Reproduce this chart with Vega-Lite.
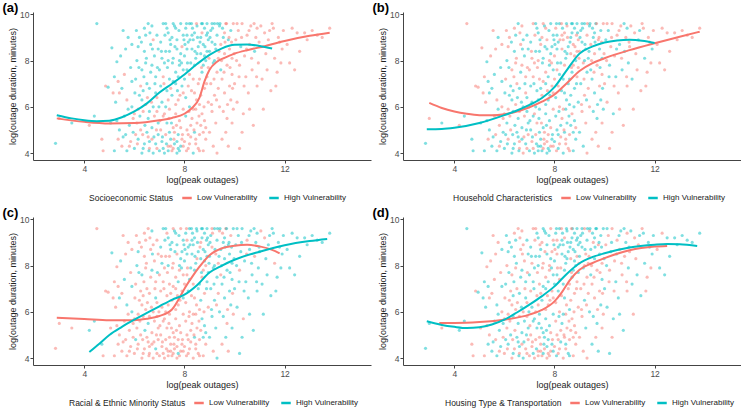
{
"$schema": "https://vega.github.io/schema/vega-lite/v6.json",
"padding": {"left": 2, "top": 2, "right": 0, "bottom": 0},
"background": "white",
"spacing": 4,
"config": {
 "font": "Liberation Sans",
 "view": {"stroke": null},
 "axis": {"grid": false, "domainColor": "#444", "tickColor": "#444", "tickSize": 3, "labelColor": "#4d4d4d", "labelFontSize": 8.5, "labelPadding": 1, "titleFontSize": 9, "titleFontWeight": "normal", "titleColor": "#222"},
 "axisX": {"titlePadding": 2.5},
 "axisY": {"titlePadding": 2.5},
 "legend": {"titleFontSize": 8.5, "titleFontWeight": "normal", "titleColor": "#222", "labelFontSize": 8, "labelColor": "#222", "symbolType": "stroke", "symbolStrokeWidth": 2.5, "symbolSize": 90, "symbolOpacity": 1, "direction": "horizontal", "titleOrient": "left", "orient": "none", "columnPadding": 6, "titlePadding": 7, "labelOffset": 4, "gridAlign": "none"},
 "title": {"fontSize": 13, "fontWeight": "bold", "anchor": "start", "frame": "bounds", "offset": -5, "dx": -5.5, "color": "#000"},
 "concat": {"spacing": 0}
},
"datasets": {
"pts": [
{"x":2.85,"y":4.42,"a":"H","b":"H","c":"L","d":"H"},
{"x":3.0,"y":5.5,"a":"L","b":"L","c":"L","d":"H"},
{"x":3.5,"y":5.3,"a":"H","b":"H","c":"L","d":"L"},
{"x":4.5,"y":9.6,"a":"H","b":"L","c":"L","d":"H"},
{"x":4.85,"y":6.9,"a":"L","b":"L","c":"L","d":"L"},
{"x":4.7,"y":4.6,"a":"L","b":"H","c":"H","d":"L"},
{"x":4.95,"y":6.85,"a":"H","b":"L","c":"L","d":"H"},
{"x":4.4,"y":5.6,"a":"H","b":"H","c":"H","d":"H"},
{"x":4.75,"y":4.1,"a":"L","b":"H","c":"L","d":"L"},
{"x":4.2,"y":5.2,"a":"L","b":"L","c":"H","d":"H"},
{"x":5.1,"y":8.55,"a":"H","b":"L","c":"H","d":"H"},
{"x":5.2,"y":4.1,"a":"H","b":"H","c":"L","d":"L"},
{"x":5.25,"y":6.2,"a":"H","b":"L","c":"L","d":"H"},
{"x":5.3,"y":7.95,"a":"H","b":"H","c":"L","d":"L"},
{"x":5.35,"y":4.6,"a":"L","b":"L","c":"L","d":"H"},
{"x":5.4,"y":5.0,"a":"H","b":"H","c":"L","d":"L"},
{"x":5.45,"y":8.2,"a":"H","b":"L","c":"H","d":"L"},
{"x":5.5,"y":4.3,"a":"L","b":"H","c":"L","d":"H"},
{"x":5.5,"y":6.8,"a":"H","b":"H","c":"L","d":"L"},
{"x":5.6,"y":5.6,"a":"H","b":"L","c":"L","d":"H"},
{"x":5.6,"y":7.4,"a":"L","b":"H","c":"H","d":"L"},
{"x":5.65,"y":4.8,"a":"H","b":"L","c":"L","d":"L"},
{"x":5.7,"y":4.1,"a":"H","b":"H","c":"L","d":"H"},
{"x":5.7,"y":6.3,"a":"L","b":"L","c":"H","d":"H"},
{"x":5.75,"y":9.0,"a":"H","b":"H","c":"L","d":"L"},
{"x":5.8,"y":5.2,"a":"H","b":"L","c":"L","d":"H"},
{"x":5.85,"y":7.7,"a":"H","b":"H","c":"L","d":"L"},
{"x":5.85,"y":4.5,"a":"L","b":"H","c":"L","d":"H"},
{"x":5.9,"y":6.0,"a":"H","b":"L","c":"H","d":"L"},
{"x":5.9,"y":8.7,"a":"H","b":"L","c":"L","d":"H"},
{"x":5.95,"y":4.9,"a":"H","b":"H","c":"L","d":"L"},
{"x":5.95,"y":5.5,"a":"L","b":"L","c":"L","d":"H"},
{"x":5.3,"y":5.4,"a":"H","b":"H","c":"L","d":"L"},
{"x":5.15,"y":6.6,"a":"L","b":"L","c":"L","d":"H"},
{"x":5.05,"y":5.3,"a":"H","b":"H","c":"L","d":"L"},
{"x":5.2,"y":7.3,"a":"H","b":"L","c":"L","d":"H"},
{"x":5.4,"y":6.6,"a":"L","b":"H","c":"H","d":"L"},
{"x":5.55,"y":4.7,"a":"H","b":"H","c":"L","d":"H"},
{"x":5.65,"y":8.5,"a":"H","b":"L","c":"L","d":"L"},
{"x":5.75,"y":5.9,"a":"H","b":"H","c":"L","d":"H"},
{"x":5.8,"y":4.3,"a":"L","b":"L","c":"L","d":"L"},
{"x":5.9,"y":7.1,"a":"H","b":"H","c":"H","d":"H"},
{"x":5.55,"y":9.3,"a":"H","b":"L","c":"L","d":"L"},
{"x":5.35,"y":7.1,"a":"L","b":"H","c":"L","d":"H"},
{"x":6.0,"y":4.2,"a":"H","b":"H","c":"L","d":"L"},
{"x":6.05,"y":7.2,"a":"H","b":"L","c":"L","d":"H"},
{"x":6.1,"y":5.3,"a":"L","b":"H","c":"L","d":"L"},
{"x":6.1,"y":8.0,"a":"H","b":"H","c":"H","d":"L"},
{"x":6.15,"y":4.6,"a":"H","b":"L","c":"L","d":"H"},
{"x":6.2,"y":6.5,"a":"H","b":"H","c":"L","d":"L"},
{"x":6.2,"y":9.0,"a":"H","b":"L","c":"L","d":"H"},
{"x":6.25,"y":5.0,"a":"L","b":"L","c":"L","d":"H"},
{"x":6.3,"y":4.0,"a":"H","b":"H","c":"L","d":"L"},
{"x":6.3,"y":7.6,"a":"H","b":"L","c":"H","d":"L"},
{"x":6.35,"y":5.8,"a":"L","b":"H","c":"L","d":"H"},
{"x":6.4,"y":4.4,"a":"H","b":"H","c":"L","d":"L"},
{"x":6.4,"y":8.4,"a":"H","b":"H","c":"L","d":"H"},
{"x":6.45,"y":6.1,"a":"L","b":"L","c":"L","d":"L"},
{"x":6.5,"y":4.9,"a":"H","b":"H","c":"L","d":"H"},
{"x":6.5,"y":7.0,"a":"H","b":"L","c":"L","d":"L"},
{"x":6.55,"y":5.5,"a":"H","b":"H","c":"H","d":"H"},
{"x":6.55,"y":9.6,"a":"H","b":"H","c":"L","d":"L"},
{"x":6.6,"y":4.2,"a":"L","b":"L","c":"L","d":"L"},
{"x":6.6,"y":6.8,"a":"H","b":"H","c":"L","d":"H"},
{"x":6.65,"y":8.7,"a":"H","b":"L","c":"L","d":"L"},
{"x":6.7,"y":5.1,"a":"H","b":"H","c":"L","d":"H"},
{"x":6.7,"y":4.6,"a":"L","b":"H","c":"L","d":"L"},
{"x":6.7,"y":7.8,"a":"H","b":"L","c":"H","d":"H"},
{"x":6.75,"y":6.0,"a":"H","b":"H","c":"L","d":"L"},
{"x":6.75,"y":4.0,"a":"H","b":"L","c":"L","d":"H"},
{"x":6.8,"y":8.2,"a":"H","b":"H","c":"L","d":"L"},
{"x":6.8,"y":5.6,"a":"L","b":"L","c":"L","d":"H"},
{"x":6.85,"y":4.4,"a":"H","b":"H","c":"H","d":"L"},
{"x":6.85,"y":7.3,"a":"H","b":"L","c":"L","d":"H"},
{"x":6.9,"y":6.4,"a":"L","b":"H","c":"L","d":"L"},
{"x":6.9,"y":9.1,"a":"H","b":"H","c":"L","d":"H"},
{"x":6.95,"y":4.8,"a":"H","b":"L","c":"L","d":"L"},
{"x":6.95,"y":5.3,"a":"H","b":"H","c":"L","d":"H"},
{"x":6.0,"y":5.7,"a":"L","b":"L","c":"L","d":"L"},
{"x":6.15,"y":8.6,"a":"H","b":"L","c":"H","d":"H"},
{"x":6.25,"y":6.9,"a":"L","b":"H","c":"L","d":"L"},
{"x":6.35,"y":4.2,"a":"H","b":"H","c":"L","d":"H"},
{"x":6.45,"y":7.9,"a":"H","b":"L","c":"L","d":"L"},
{"x":6.55,"y":4.7,"a":"L","b":"H","c":"L","d":"H"},
{"x":6.6,"y":5.8,"a":"H","b":"L","c":"L","d":"L"},
{"x":6.65,"y":7.5,"a":"H","b":"H","c":"L","d":"H"},
{"x":6.75,"y":8.9,"a":"L","b":"H","c":"L","d":"L"},
{"x":6.85,"y":6.6,"a":"H","b":"L","c":"H","d":"H"},
{"x":6.9,"y":4.2,"a":"L","b":"L","c":"L","d":"L"},
{"x":6.95,"y":8.5,"a":"H","b":"H","c":"L","d":"H"},
{"x":6.4,"y":9.4,"a":"H","b":"L","c":"L","d":"L"},
{"x":6.05,"y":4.8,"a":"L","b":"H","c":"H","d":"H"},
{"x":6.3,"y":6.3,"a":"H","b":"H","c":"L","d":"L"},
{"x":6.6,"y":4.5,"a":"H","b":"L","c":"L","d":"H"},
{"x":6.02,"y":6.6,"a":"H","b":"H","c":"L","d":"L"},
{"x":6.08,"y":9.3,"a":"H","b":"L","c":"L","d":"H"},
{"x":6.12,"y":4.4,"a":"L","b":"H","c":"L","d":"L"},
{"x":6.18,"y":7.7,"a":"H","b":"H","c":"H","d":"H"},
{"x":6.22,"y":5.6,"a":"H","b":"L","c":"L","d":"L"},
{"x":6.28,"y":8.8,"a":"H","b":"H","c":"L","d":"H"},
{"x":6.33,"y":4.8,"a":"L","b":"H","c":"L","d":"L"},
{"x":6.38,"y":7.3,"a":"H","b":"L","c":"L","d":"H"},
{"x":6.42,"y":5.2,"a":"H","b":"H","c":"H","d":"L"},
{"x":6.48,"y":8.1,"a":"H","b":"L","c":"L","d":"H"},
{"x":6.52,"y":6.4,"a":"L","b":"H","c":"L","d":"L"},
{"x":6.58,"y":4.1,"a":"H","b":"H","c":"L","d":"H"},
{"x":6.62,"y":9.2,"a":"H","b":"L","c":"L","d":"L"},
{"x":6.68,"y":6.2,"a":"L","b":"H","c":"L","d":"H"},
{"x":6.72,"y":8.5,"a":"H","b":"H","c":"H","d":"L"},
{"x":6.78,"y":4.7,"a":"H","b":"L","c":"L","d":"H"},
{"x":6.82,"y":7.0,"a":"H","b":"H","c":"L","d":"L"},
{"x":6.88,"y":5.0,"a":"L","b":"H","c":"L","d":"H"},
{"x":6.92,"y":7.7,"a":"H","b":"L","c":"H","d":"L"},
{"x":6.98,"y":6.0,"a":"H","b":"H","c":"L","d":"H"},
{"x":6.15,"y":5.9,"a":"L","b":"L","c":"L","d":"L"},
{"x":6.45,"y":9.1,"a":"H","b":"H","c":"L","d":"H"},
{"x":6.7,"y":9.5,"a":"H","b":"L","c":"H","d":"L"},
{"x":6.35,"y":6.7,"a":"H","b":"H","c":"L","d":"H"},
{"x":6.9,"y":5.8,"a":"L","b":"H","c":"L","d":"L"},
{"x":7.0,"y":4.1,"a":"H","b":"H","c":"L","d":"L"},
{"x":7.0,"y":7.6,"a":"H","b":"L","c":"L","d":"H"},
{"x":7.05,"y":5.0,"a":"L","b":"H","c":"L","d":"L"},
{"x":7.05,"y":8.8,"a":"H","b":"H","c":"H","d":"H"},
{"x":7.1,"y":4.5,"a":"H","b":"L","c":"L","d":"L"},
{"x":7.1,"y":6.2,"a":"H","b":"H","c":"L","d":"H"},
{"x":7.15,"y":9.6,"a":"H","b":"L","c":"H","d":"L"},
{"x":7.15,"y":5.6,"a":"L","b":"H","c":"L","d":"H"},
{"x":7.2,"y":4.0,"a":"H","b":"H","c":"L","d":"L"},
{"x":7.2,"y":7.9,"a":"H","b":"L","c":"L","d":"H"},
{"x":7.25,"y":4.8,"a":"L","b":"L","c":"L","d":"L"},
{"x":7.25,"y":8.4,"a":"H","b":"H","c":"L","d":"H"},
{"x":7.3,"y":6.7,"a":"H","b":"H","c":"L","d":"L"},
{"x":7.3,"y":5.3,"a":"H","b":"L","c":"L","d":"H"},
{"x":7.35,"y":4.3,"a":"L","b":"H","c":"L","d":"L"},
{"x":7.35,"y":9.2,"a":"H","b":"H","c":"H","d":"H"},
{"x":7.4,"y":7.2,"a":"H","b":"L","c":"L","d":"L"},
{"x":7.4,"y":5.9,"a":"L","b":"H","c":"L","d":"H"},
{"x":7.45,"y":4.6,"a":"H","b":"H","c":"L","d":"L"},
{"x":7.45,"y":8.7,"a":"H","b":"L","c":"H","d":"H"},
{"x":7.5,"y":4.1,"a":"L","b":"H","c":"L","d":"L"},
{"x":7.5,"y":6.5,"a":"H","b":"L","c":"L","d":"H"},
{"x":7.55,"y":8.1,"a":"H","b":"H","c":"L","d":"L"},
{"x":7.55,"y":5.1,"a":"L","b":"H","c":"L","d":"H"},
{"x":7.6,"y":4.4,"a":"H","b":"L","c":"L","d":"L"},
{"x":7.6,"y":9.5,"a":"H","b":"H","c":"H","d":"H"},
{"x":7.65,"y":7.5,"a":"H","b":"L","c":"L","d":"L"},
{"x":7.65,"y":5.7,"a":"L","b":"H","c":"L","d":"H"},
{"x":7.7,"y":4.0,"a":"H","b":"H","c":"L","d":"L"},
{"x":7.7,"y":8.9,"a":"H","b":"L","c":"H","d":"H"},
{"x":7.75,"y":6.3,"a":"L","b":"H","c":"L","d":"L"},
{"x":7.75,"y":4.8,"a":"H","b":"L","c":"L","d":"H"},
{"x":7.8,"y":7.8,"a":"H","b":"H","c":"L","d":"L"},
{"x":7.8,"y":5.4,"a":"L","b":"H","c":"L","d":"H"},
{"x":7.85,"y":4.3,"a":"H","b":"L","c":"L","d":"L"},
{"x":7.85,"y":8.3,"a":"H","b":"H","c":"H","d":"H"},
{"x":7.9,"y":6.9,"a":"H","b":"L","c":"L","d":"L"},
{"x":7.9,"y":4.6,"a":"L","b":"H","c":"L","d":"H"},
{"x":7.95,"y":9.1,"a":"H","b":"H","c":"H","d":"L"},
{"x":7.95,"y":5.9,"a":"L","b":"L","c":"L","d":"H"},
{"x":7.05,"y":6.9,"a":"H","b":"H","c":"L","d":"L"},
{"x":7.15,"y":7.3,"a":"L","b":"L","c":"L","d":"H"},
{"x":7.25,"y":6.0,"a":"H","b":"H","c":"L","d":"L"},
{"x":7.35,"y":8.0,"a":"H","b":"L","c":"H","d":"H"},
{"x":7.45,"y":6.8,"a":"L","b":"H","c":"L","d":"L"},
{"x":7.55,"y":7.1,"a":"H","b":"L","c":"L","d":"H"},
{"x":7.65,"y":6.1,"a":"L","b":"H","c":"L","d":"L"},
{"x":7.75,"y":7.3,"a":"H","b":"H","c":"H","d":"H"},
{"x":7.85,"y":5.1,"a":"L","b":"L","c":"L","d":"L"},
{"x":7.95,"y":7.6,"a":"H","b":"H","c":"L","d":"H"},
{"x":7.1,"y":8.1,"a":"H","b":"L","c":"H","d":"L"},
{"x":7.3,"y":9.4,"a":"H","b":"H","c":"L","d":"H"},
{"x":7.5,"y":9.0,"a":"H","b":"L","c":"H","d":"L"},
{"x":7.7,"y":8.5,"a":"H","b":"H","c":"L","d":"H"},
{"x":7.9,"y":8.6,"a":"L","b":"H","c":"H","d":"L"},
{"x":7.2,"y":5.7,"a":"L","b":"L","c":"L","d":"H"},
{"x":7.4,"y":4.9,"a":"H","b":"H","c":"L","d":"L"},
{"x":7.6,"y":4.9,"a":"L","b":"L","c":"L","d":"H"},
{"x":7.8,"y":4.1,"a":"H","b":"H","c":"L","d":"L"},
{"x":7.95,"y":4.3,"a":"L","b":"L","c":"L","d":"H"},
{"x":7.35,"y":4.1,"a":"H","b":"H","c":"L","d":"L"},
{"x":7.55,"y":4.2,"a":"L","b":"L","c":"L","d":"H"},
{"x":7.75,"y":4.2,"a":"H","b":"H","c":"H","d":"L"},
{"x":7.65,"y":9.4,"a":"H","b":"L","c":"H","d":"H"},
{"x":7.85,"y":9.6,"a":"H","b":"H","c":"L","d":"L"},
{"x":7.02,"y":5.4,"a":"L","b":"H","c":"L","d":"L"},
{"x":7.08,"y":8.4,"a":"H","b":"L","c":"L","d":"H"},
{"x":7.12,"y":4.7,"a":"H","b":"H","c":"L","d":"L"},
{"x":7.18,"y":7.0,"a":"L","b":"H","c":"L","d":"H"},
{"x":7.22,"y":9.1,"a":"H","b":"L","c":"H","d":"L"},
{"x":7.28,"y":4.4,"a":"H","b":"H","c":"L","d":"H"},
{"x":7.32,"y":7.7,"a":"H","b":"L","c":"L","d":"L"},
{"x":7.38,"y":5.5,"a":"L","b":"H","c":"L","d":"H"},
{"x":7.42,"y":8.9,"a":"H","b":"H","c":"H","d":"L"},
{"x":7.48,"y":5.3,"a":"H","b":"L","c":"L","d":"H"},
{"x":7.52,"y":7.9,"a":"H","b":"H","c":"L","d":"L"},
{"x":7.58,"y":4.6,"a":"L","b":"L","c":"L","d":"H"},
{"x":7.62,"y":8.6,"a":"H","b":"H","c":"H","d":"L"},
{"x":7.68,"y":5.2,"a":"L","b":"H","c":"L","d":"H"},
{"x":7.72,"y":6.7,"a":"H","b":"L","c":"L","d":"L"},
{"x":7.78,"y":9.3,"a":"H","b":"H","c":"H","d":"H"},
{"x":7.82,"y":6.5,"a":"L","b":"H","c":"L","d":"L"},
{"x":7.88,"y":7.9,"a":"H","b":"L","c":"H","d":"H"},
{"x":7.92,"y":4.8,"a":"L","b":"H","c":"L","d":"L"},
{"x":7.98,"y":8.9,"a":"H","b":"H","c":"H","d":"H"},
{"x":7.15,"y":4.2,"a":"H","b":"L","c":"L","d":"H"},
{"x":7.45,"y":4.3,"a":"L","b":"H","c":"L","d":"L"},
{"x":7.7,"y":4.5,"a":"H","b":"L","c":"L","d":"H"},
{"x":7.25,"y":9.6,"a":"H","b":"H","c":"H","d":"L"},
{"x":7.55,"y":9.6,"a":"H","b":"L","c":"L","d":"H"},
{"x":7.35,"y":6.3,"a":"L","b":"H","c":"L","d":"L"},
{"x":7.65,"y":7.0,"a":"H","b":"H","c":"L","d":"H"},
{"x":7.95,"y":6.6,"a":"L","b":"L","c":"H","d":"L"},
{"x":7.4,"y":8.4,"a":"H","b":"H","c":"L","d":"H"},
{"x":7.8,"y":8.0,"a":"H","b":"L","c":"H","d":"L"},
{"x":8.0,"y":4.5,"a":"L","b":"H","c":"L","d":"L"},
{"x":8.0,"y":8.2,"a":"H","b":"L","c":"H","d":"H"},
{"x":8.05,"y":6.4,"a":"H","b":"H","c":"L","d":"L"},
{"x":8.05,"y":9.4,"a":"H","b":"L","c":"H","d":"H"},
{"x":8.1,"y":5.0,"a":"L","b":"H","c":"L","d":"L"},
{"x":8.1,"y":7.6,"a":"H","b":"L","c":"L","d":"H"},
{"x":8.15,"y":4.2,"a":"L","b":"H","c":"L","d":"L"},
{"x":8.15,"y":8.8,"a":"H","b":"H","c":"H","d":"H"},
{"x":8.2,"y":6.0,"a":"H","b":"L","c":"L","d":"L"},
{"x":8.2,"y":9.6,"a":"H","b":"H","c":"H","d":"H"},
{"x":8.25,"y":4.7,"a":"L","b":"L","c":"L","d":"H"},
{"x":8.25,"y":7.9,"a":"H","b":"H","c":"H","d":"L"},
{"x":8.3,"y":5.5,"a":"L","b":"L","c":"L","d":"H"},
{"x":8.3,"y":8.5,"a":"H","b":"L","c":"H","d":"H"},
{"x":8.35,"y":4.0,"a":"H","b":"H","c":"L","d":"L"},
{"x":8.35,"y":7.2,"a":"L","b":"H","c":"L","d":"H"},
{"x":8.4,"y":9.2,"a":"H","b":"L","c":"H","d":"L"},
{"x":8.4,"y":6.6,"a":"L","b":"H","c":"L","d":"H"},
{"x":8.45,"y":4.4,"a":"L","b":"L","c":"L","d":"L"},
{"x":8.45,"y":8.1,"a":"H","b":"H","c":"H","d":"H"},
{"x":8.5,"y":5.3,"a":"L","b":"H","c":"L","d":"L"},
{"x":8.5,"y":9.5,"a":"H","b":"L","c":"H","d":"H"},
{"x":8.55,"y":7.0,"a":"L","b":"H","c":"H","d":"L"},
{"x":8.55,"y":8.6,"a":"H","b":"H","c":"H","d":"H"},
{"x":8.6,"y":4.8,"a":"L","b":"L","c":"L","d":"L"},
{"x":8.6,"y":6.1,"a":"L","b":"H","c":"L","d":"H"},
{"x":8.65,"y":8.3,"a":"H","b":"L","c":"H","d":"L"},
{"x":8.65,"y":9.0,"a":"H","b":"H","c":"L","d":"H"},
{"x":8.7,"y":5.7,"a":"L","b":"L","c":"H","d":"L"},
{"x":8.7,"y":7.5,"a":"H","b":"H","c":"L","d":"H"},
{"x":8.75,"y":4.1,"a":"L","b":"H","c":"L","d":"L"},
{"x":8.75,"y":8.7,"a":"H","b":"L","c":"H","d":"H"},
{"x":8.8,"y":6.8,"a":"L","b":"H","c":"L","d":"L"},
{"x":8.8,"y":9.4,"a":"H","b":"H","c":"H","d":"H"},
{"x":8.85,"y":5.1,"a":"L","b":"L","c":"H","d":"L"},
{"x":8.85,"y":8.0,"a":"H","b":"H","c":"L","d":"H"},
{"x":8.9,"y":7.3,"a":"L","b":"L","c":"H","d":"L"},
{"x":8.9,"y":9.6,"a":"H","b":"H","c":"H","d":"H"},
{"x":8.95,"y":6.2,"a":"L","b":"H","c":"L","d":"L"},
{"x":8.95,"y":8.9,"a":"H","b":"L","c":"H","d":"H"},
{"x":8.05,"y":5.6,"a":"H","b":"H","c":"L","d":"L"},
{"x":8.15,"y":6.9,"a":"L","b":"L","c":"H","d":"H"},
{"x":8.25,"y":5.2,"a":"L","b":"H","c":"L","d":"L"},
{"x":8.35,"y":8.9,"a":"H","b":"L","c":"H","d":"H"},
{"x":8.45,"y":5.9,"a":"L","b":"H","c":"L","d":"L"},
{"x":8.55,"y":4.2,"a":"L","b":"L","c":"L","d":"H"},
{"x":8.65,"y":6.5,"a":"L","b":"H","c":"H","d":"L"},
{"x":8.75,"y":7.8,"a":"H","b":"L","c":"L","d":"H"},
{"x":8.85,"y":4.6,"a":"L","b":"H","c":"L","d":"L"},
{"x":8.95,"y":7.7,"a":"L","b":"L","c":"H","d":"H"},
{"x":8.1,"y":8.5,"a":"H","b":"H","c":"H","d":"L"},
{"x":8.3,"y":9.1,"a":"H","b":"L","c":"H","d":"H"},
{"x":8.5,"y":8.3,"a":"H","b":"H","c":"L","d":"H"},
{"x":8.7,"y":9.2,"a":"L","b":"H","c":"H","d":"H"},
{"x":8.9,"y":8.4,"a":"H","b":"L","c":"H","d":"L"},
{"x":8.2,"y":4.4,"a":"L","b":"L","c":"L","d":"L"},
{"x":8.4,"y":4.9,"a":"H","b":"H","c":"H","d":"L"},
{"x":8.6,"y":4.1,"a":"L","b":"L","c":"L","d":"H"},
{"x":8.8,"y":5.4,"a":"L","b":"H","c":"H","d":"L"},
{"x":8.0,"y":7.2,"a":"H","b":"L","c":"L","d":"H"},
{"x":8.2,"y":7.4,"a":"L","b":"H","c":"H","d":"L"},
{"x":8.4,"y":7.8,"a":"H","b":"L","c":"H","d":"H"},
{"x":8.6,"y":7.2,"a":"L","b":"H","c":"H","d":"L"},
{"x":8.8,"y":8.2,"a":"H","b":"L","c":"H","d":"H"},
{"x":8.1,"y":9.1,"a":"H","b":"H","c":"L","d":"L"},
{"x":8.02,"y":8.7,"a":"H","b":"H","c":"H","d":"L"},
{"x":8.08,"y":4.1,"a":"L","b":"L","c":"L","d":"H"},
{"x":8.12,"y":7.9,"a":"H","b":"H","c":"L","d":"L"},
{"x":8.18,"y":5.8,"a":"L","b":"H","c":"L","d":"H"},
{"x":8.22,"y":8.9,"a":"H","b":"L","c":"H","d":"H"},
{"x":8.28,"y":6.7,"a":"L","b":"H","c":"L","d":"L"},
{"x":8.32,"y":9.4,"a":"H","b":"H","c":"H","d":"H"},
{"x":8.38,"y":5.0,"a":"L","b":"L","c":"L","d":"L"},
{"x":8.42,"y":8.4,"a":"H","b":"H","c":"H","d":"H"},
{"x":8.48,"y":6.3,"a":"L","b":"H","c":"L","d":"L"},
{"x":8.52,"y":9.0,"a":"H","b":"L","c":"H","d":"H"},
{"x":8.58,"y":5.6,"a":"L","b":"H","c":"L","d":"L"},
{"x":8.62,"y":8.8,"a":"H","b":"H","c":"L","d":"H"},
{"x":8.68,"y":7.7,"a":"L","b":"L","c":"H","d":"L"},
{"x":8.72,"y":9.6,"a":"H","b":"H","c":"H","d":"H"},
{"x":8.78,"y":6.0,"a":"L","b":"H","c":"L","d":"L"},
{"x":8.82,"y":8.6,"a":"H","b":"L","c":"H","d":"H"},
{"x":8.88,"y":7.0,"a":"L","b":"H","c":"H","d":"L"},
{"x":8.92,"y":9.2,"a":"H","b":"H","c":"H","d":"H"},
{"x":8.98,"y":8.1,"a":"L","b":"L","c":"H","d":"L"},
{"x":8.08,"y":9.6,"a":"H","b":"H","c":"L","d":"H"},
{"x":8.28,"y":9.6,"a":"H","b":"L","c":"H","d":"L"},
{"x":8.48,"y":9.6,"a":"L","b":"H","c":"H","d":"H"},
{"x":8.68,"y":9.6,"a":"H","b":"H","c":"H","d":"L"},
{"x":8.88,"y":9.1,"a":"H","b":"L","c":"H","d":"H"},
{"x":8.15,"y":4.8,"a":"L","b":"H","c":"L","d":"L"},
{"x":8.45,"y":4.6,"a":"L","b":"L","c":"L","d":"H"},
{"x":8.75,"y":4.9,"a":"L","b":"H","c":"H","d":"L"},
{"x":8.35,"y":5.9,"a":"L","b":"L","c":"L","d":"H"},
{"x":8.65,"y":5.2,"a":"L","b":"H","c":"L","d":"L"},
{"x":9.0,"y":4.9,"a":"L","b":"H","c":"H","d":"L"},
{"x":9.0,"y":8.4,"a":"H","b":"L","c":"H","d":"H"},
{"x":9.05,"y":7.0,"a":"L","b":"H","c":"H","d":"L"},
{"x":9.05,"y":9.3,"a":"H","b":"H","c":"H","d":"H"},
{"x":9.1,"y":5.8,"a":"L","b":"L","c":"H","d":"L"},
{"x":9.1,"y":8.8,"a":"H","b":"H","c":"L","d":"H"},
{"x":9.15,"y":4.3,"a":"L","b":"H","c":"L","d":"L"},
{"x":9.15,"y":7.9,"a":"H","b":"L","c":"H","d":"H"},
{"x":9.2,"y":9.6,"a":"H","b":"H","c":"H","d":"L"},
{"x":9.2,"y":6.5,"a":"L","b":"L","c":"H","d":"H"},
{"x":9.25,"y":8.5,"a":"H","b":"H","c":"L","d":"L"},
{"x":9.25,"y":5.3,"a":"L","b":"L","c":"H","d":"H"},
{"x":9.3,"y":7.5,"a":"L","b":"H","c":"H","d":"L"},
{"x":9.3,"y":9.1,"a":"H","b":"L","c":"H","d":"H"},
{"x":9.35,"y":8.1,"a":"L","b":"H","c":"L","d":"L"},
{"x":9.4,"y":6.0,"a":"L","b":"L","c":"H","d":"H"},
{"x":9.4,"y":9.5,"a":"H","b":"H","c":"L","d":"L"},
{"x":9.45,"y":8.7,"a":"L","b":"L","c":"H","d":"H"},
{"x":9.5,"y":7.2,"a":"L","b":"H","c":"H","d":"L"},
{"x":9.5,"y":4.6,"a":"L","b":"L","c":"L","d":"H"},
{"x":9.55,"y":9.0,"a":"H","b":"H","c":"H","d":"L"},
{"x":9.6,"y":8.3,"a":"L","b":"L","c":"H","d":"H"},
{"x":9.6,"y":6.6,"a":"L","b":"H","c":"H","d":"L"},
{"x":9.65,"y":9.6,"a":"L","b":"H","c":"L","d":"H"},
{"x":9.7,"y":7.8,"a":"L","b":"L","c":"H","d":"L"},
{"x":9.7,"y":5.5,"a":"L","b":"H","c":"L","d":"H"},
{"x":9.75,"y":8.9,"a":"H","b":"L","c":"H","d":"L"},
{"x":9.8,"y":8.5,"a":"L","b":"H","c":"H","d":"H"},
{"x":9.8,"y":6.9,"a":"L","b":"L","c":"H","d":"L"},
{"x":9.85,"y":9.3,"a":"H","b":"H","c":"L","d":"H"},
{"x":9.9,"y":7.4,"a":"L","b":"L","c":"H","d":"H"},
{"x":9.9,"y":8.1,"a":"L","b":"H","c":"H","d":"L"},
{"x":9.95,"y":9.6,"a":"L","b":"L","c":"H","d":"H"},
{"x":9.95,"y":5.9,"a":"L","b":"H","c":"L","d":"L"},
{"x":9.1,"y":9.6,"a":"H","b":"H","c":"L","d":"H"},
{"x":9.3,"y":4.0,"a":"L","b":"L","c":"H","d":"L"},
{"x":9.45,"y":7.6,"a":"H","b":"H","c":"L","d":"H"},
{"x":9.65,"y":4.9,"a":"L","b":"L","c":"H","d":"L"},
{"x":9.85,"y":6.3,"a":"L","b":"H","c":"H","d":"H"},
{"x":9.35,"y":6.8,"a":"L","b":"L","c":"L","d":"L"},
{"x":9.55,"y":5.8,"a":"L","b":"H","c":"H","d":"H"},
{"x":9.75,"y":4.3,"a":"L","b":"L","c":"L","d":"H"},
{"x":9.2,"y":8.0,"a":"H","b":"H","c":"H","d":"L"},
{"x":9.6,"y":9.2,"a":"L","b":"H","c":"H","d":"H"},
{"x":9.9,"y":5.3,"a":"L","b":"L","c":"H","d":"L"},
{"x":9.02,"y":9.0,"a":"H","b":"H","c":"H","d":"H"},
{"x":9.08,"y":6.1,"a":"L","b":"L","c":"H","d":"L"},
{"x":9.12,"y":9.4,"a":"H","b":"H","c":"L","d":"H"},
{"x":9.18,"y":7.2,"a":"L","b":"L","c":"H","d":"L"},
{"x":9.22,"y":8.7,"a":"H","b":"H","c":"H","d":"H"},
{"x":9.28,"y":6.3,"a":"L","b":"H","c":"L","d":"L"},
{"x":9.32,"y":9.6,"a":"H","b":"L","c":"H","d":"H"},
{"x":9.38,"y":8.4,"a":"L","b":"H","c":"H","d":"L"},
{"x":9.42,"y":9.6,"a":"H","b":"H","c":"H","d":"H"},
{"x":9.48,"y":8.0,"a":"L","b":"L","c":"H","d":"L"},
{"x":9.52,"y":9.4,"a":"H","b":"H","c":"L","d":"H"},
{"x":9.58,"y":7.5,"a":"L","b":"L","c":"H","d":"L"},
{"x":9.62,"y":8.8,"a":"L","b":"H","c":"H","d":"H"},
{"x":9.68,"y":9.6,"a":"L","b":"L","c":"H","d":"H"},
{"x":9.72,"y":6.1,"a":"L","b":"H","c":"L","d":"L"},
{"x":9.78,"y":9.0,"a":"L","b":"L","c":"H","d":"H"},
{"x":9.82,"y":7.7,"a":"L","b":"H","c":"H","d":"L"},
{"x":9.88,"y":8.8,"a":"L","b":"L","c":"H","d":"H"},
{"x":9.92,"y":6.8,"a":"L","b":"H","c":"L","d":"L"},
{"x":9.98,"y":8.3,"a":"L","b":"L","c":"H","d":"H"},
{"x":10.0,"y":7.0,"a":"L","b":"L","c":"H","d":"H"},
{"x":10.05,"y":8.9,"a":"L","b":"H","c":"H","d":"L"},
{"x":10.1,"y":6.2,"a":"L","b":"L","c":"H","d":"H"},
{"x":10.15,"y":9.3,"a":"L","b":"H","c":"H","d":"L"},
{"x":10.2,"y":4.2,"a":"L","b":"L","c":"H","d":"H"},
{"x":10.2,"y":7.8,"a":"L","b":"H","c":"L","d":"L"},
{"x":10.25,"y":8.6,"a":"H","b":"L","c":"H","d":"H"},
{"x":10.3,"y":9.6,"a":"L","b":"L","c":"H","d":"L"},
{"x":10.35,"y":5.7,"a":"L","b":"H","c":"L","d":"H"},
{"x":10.4,"y":8.2,"a":"L","b":"L","c":"H","d":"L"},
{"x":10.45,"y":7.3,"a":"L","b":"H","c":"H","d":"H"},
{"x":10.5,"y":9.1,"a":"L","b":"L","c":"L","d":"L"},
{"x":10.55,"y":6.6,"a":"L","b":"L","c":"H","d":"H"},
{"x":10.6,"y":8.7,"a":"L","b":"H","c":"H","d":"L"},
{"x":10.65,"y":9.5,"a":"L","b":"L","c":"H","d":"H"},
{"x":10.7,"y":7.6,"a":"L","b":"H","c":"H","d":"L"},
{"x":10.75,"y":5.2,"a":"L","b":"L","c":"H","d":"H"},
{"x":10.8,"y":8.4,"a":"H","b":"H","c":"L","d":"L"},
{"x":10.85,"y":9.0,"a":"L","b":"L","c":"H","d":"H"},
{"x":10.9,"y":6.9,"a":"L","b":"L","c":"H","d":"L"},
{"x":10.95,"y":7.9,"a":"L","b":"H","c":"H","d":"H"},
{"x":10.3,"y":4.9,"a":"L","b":"L","c":"H","d":"L"},
{"x":10.6,"y":5.9,"a":"L","b":"L","c":"H","d":"H"},
{"x":10.9,"y":9.4,"a":"L","b":"H","c":"H","d":"L"},
{"x":10.1,"y":9.6,"a":"L","b":"L","c":"H","d":"H"},
{"x":10.08,"y":8.0,"a":"L","b":"L","c":"H","d":"H"},
{"x":10.18,"y":7.3,"a":"L","b":"H","c":"H","d":"L"},
{"x":10.28,"y":9.0,"a":"L","b":"L","c":"H","d":"H"},
{"x":10.38,"y":6.9,"a":"L","b":"L","c":"H","d":"L"},
{"x":10.48,"y":8.5,"a":"L","b":"H","c":"L","d":"H"},
{"x":10.58,"y":9.3,"a":"L","b":"L","c":"H","d":"H"},
{"x":10.68,"y":8.1,"a":"L","b":"L","c":"H","d":"L"},
{"x":10.78,"y":9.6,"a":"L","b":"H","c":"H","d":"H"},
{"x":10.88,"y":7.3,"a":"L","b":"L","c":"H","d":"L"},
{"x":10.98,"y":8.8,"a":"L","b":"L","c":"H","d":"H"},
{"x":11.0,"y":8.6,"a":"L","b":"L","c":"H","d":"L"},
{"x":11.1,"y":7.2,"a":"L","b":"H","c":"H","d":"H"},
{"x":11.2,"y":9.2,"a":"L","b":"L","c":"L","d":"L"},
{"x":11.3,"y":7.6,"a":"L","b":"L","c":"H","d":"H"},
{"x":11.35,"y":8.9,"a":"L","b":"H","c":"H","d":"L"},
{"x":11.45,"y":6.7,"a":"L","b":"L","c":"H","d":"H"},
{"x":11.5,"y":9.6,"a":"L","b":"L","c":"H","d":"L"},
{"x":11.6,"y":8.1,"a":"L","b":"H","c":"L","d":"H"},
{"x":11.7,"y":7.5,"a":"L","b":"L","c":"H","d":"L"},
{"x":11.75,"y":9.0,"a":"L","b":"L","c":"H","d":"H"},
{"x":11.85,"y":7.9,"a":"L","b":"L","c":"H","d":"L"},
{"x":11.9,"y":8.5,"a":"L","b":"H","c":"H","d":"H"},
{"x":11.15,"y":5.9,"a":"L","b":"L","c":"H","d":"L"},
{"x":11.55,"y":9.4,"a":"L","b":"L","c":"H","d":"H"},
{"x":11.95,"y":9.3,"a":"L","b":"L","c":"H","d":"H"},
{"x":11.25,"y":8.3,"a":"L","b":"L","c":"H","d":"L"},
{"x":11.4,"y":9.3,"a":"L","b":"H","c":"H","d":"H"},
{"x":11.65,"y":6.9,"a":"L","b":"L","c":"H","d":"L"},
{"x":11.8,"y":8.8,"a":"L","b":"L","c":"H","d":"H"},
{"x":11.05,"y":9.5,"a":"L","b":"L","c":"L","d":"H"},
{"x":12.1,"y":8.7,"a":"L","b":"L","c":"H","d":"L"},
{"x":12.2,"y":7.9,"a":"L","b":"L","c":"H","d":"H"},
{"x":12.3,"y":9.4,"a":"L","b":"L","c":"H","d":"L"},
{"x":12.5,"y":9.2,"a":"L","b":"L","c":"H","d":"H"},
{"x":12.6,"y":8.4,"a":"L","b":"L","c":"H","d":"H"},
{"x":12.8,"y":9.2,"a":"L","b":"L","c":"H","d":"H"},
{"x":12.9,"y":8.9,"a":"L","b":"L","c":"H","d":"H"},
{"x":13.1,"y":9.3,"a":"L","b":"L","c":"H","d":"H"},
{"x":13.3,"y":9.1,"a":"L","b":"L","c":"H","d":"H"},
{"x":13.5,"y":9.0,"a":"L","b":"L","c":"H","d":"H"},
{"x":13.8,"y":9.4,"a":"L","b":"L","c":"H","d":"H"},
{"x":12.4,"y":7.6,"a":"L","b":"L","c":"H","d":"H"}
],
"curves": [
{"p":"a","g":"L","x":2.9,"y":5.5},{"p":"a","g":"L","x":4,"y":5.35},{"p":"a","g":"L","x":5,"y":5.28},{"p":"a","g":"L","x":6,"y":5.3},{"p":"a","g":"L","x":7,"y":5.42},{"p":"a","g":"L","x":7.5,"y":5.52},{"p":"a","g":"L","x":8,"y":5.7},{"p":"a","g":"L","x":8.3,"y":5.95},{"p":"a","g":"L","x":8.6,"y":6.4},{"p":"a","g":"L","x":8.8,"y":7.1},{"p":"a","g":"L","x":9.0,"y":7.6},{"p":"a","g":"L","x":9.3,"y":7.95},{"p":"a","g":"L","x":9.6,"y":8.12},{"p":"a","g":"L","x":10,"y":8.3},{"p":"a","g":"L","x":10.5,"y":8.45},{"p":"a","g":"L","x":11,"y":8.57},{"p":"a","g":"L","x":12,"y":8.85},{"p":"a","g":"L","x":13,"y":9.07},{"p":"a","g":"L","x":13.8,"y":9.2},
{"p":"a","g":"H","x":2.9,"y":5.64},{"p":"a","g":"H","x":3.5,"y":5.5},{"p":"a","g":"H","x":4,"y":5.42},{"p":"a","g":"H","x":4.5,"y":5.38},{"p":"a","g":"H","x":5,"y":5.4},{"p":"a","g":"H","x":5.5,"y":5.55},{"p":"a","g":"H","x":6,"y":5.8},{"p":"a","g":"H","x":6.5,"y":6.15},{"p":"a","g":"H","x":7,"y":6.62},{"p":"a","g":"H","x":7.5,"y":7.0},{"p":"a","g":"H","x":8,"y":7.4},{"p":"a","g":"H","x":8.5,"y":7.85},{"p":"a","g":"H","x":9,"y":8.25},{"p":"a","g":"H","x":9.5,"y":8.53},{"p":"a","g":"H","x":10,"y":8.68},{"p":"a","g":"H","x":10.5,"y":8.7},{"p":"a","g":"H","x":11,"y":8.63},{"p":"a","g":"H","x":11.5,"y":8.52},
{"p":"b","g":"L","x":3,"y":6.17},{"p":"b","g":"L","x":3.5,"y":5.95},{"p":"b","g":"L","x":4,"y":5.8},{"p":"b","g":"L","x":4.5,"y":5.7},{"p":"b","g":"L","x":5,"y":5.64},{"p":"b","g":"L","x":5.5,"y":5.63},{"p":"b","g":"L","x":6,"y":5.68},{"p":"b","g":"L","x":6.5,"y":5.8},{"p":"b","g":"L","x":7,"y":5.98},{"p":"b","g":"L","x":7.5,"y":6.22},{"p":"b","g":"L","x":8,"y":6.53},{"p":"b","g":"L","x":8.5,"y":7.03},{"p":"b","g":"L","x":9,"y":7.55},{"p":"b","g":"L","x":9.5,"y":7.88},{"p":"b","g":"L","x":10,"y":8.1},{"p":"b","g":"L","x":11,"y":8.45},{"p":"b","g":"L","x":12,"y":8.75},{"p":"b","g":"L","x":13,"y":9.03},{"p":"b","g":"L","x":13.8,"y":9.25},
{"p":"b","g":"H","x":2.9,"y":5.03},{"p":"b","g":"H","x":3.5,"y":5.04},{"p":"b","g":"H","x":4,"y":5.09},{"p":"b","g":"H","x":5,"y":5.3},{"p":"b","g":"H","x":6,"y":5.64},{"p":"b","g":"H","x":6.5,"y":5.84},{"p":"b","g":"H","x":7,"y":6.08},{"p":"b","g":"H","x":7.5,"y":6.38},{"p":"b","g":"H","x":8,"y":6.85},{"p":"b","g":"H","x":8.5,"y":7.6},{"p":"b","g":"H","x":9,"y":8.3},{"p":"b","g":"H","x":9.5,"y":8.6},{"p":"b","g":"H","x":10,"y":8.78},{"p":"b","g":"H","x":10.5,"y":8.87},{"p":"b","g":"H","x":11,"y":8.9},{"p":"b","g":"H","x":11.5,"y":8.86},{"p":"b","g":"H","x":12,"y":8.76},
{"p":"c","g":"L","x":2.9,"y":5.74},{"p":"c","g":"L","x":4,"y":5.69},{"p":"c","g":"L","x":5,"y":5.64},{"p":"c","g":"L","x":6,"y":5.64},{"p":"c","g":"L","x":6.5,"y":5.7},{"p":"c","g":"L","x":7,"y":5.82},{"p":"c","g":"L","x":7.5,"y":6.1},{"p":"c","g":"L","x":7.8,"y":6.6},{"p":"c","g":"L","x":8,"y":7.0},{"p":"c","g":"L","x":8.3,"y":7.5},{"p":"c","g":"L","x":8.6,"y":7.95},{"p":"c","g":"L","x":9,"y":8.45},{"p":"c","g":"L","x":9.5,"y":8.75},{"p":"c","g":"L","x":10,"y":8.86},{"p":"c","g":"L","x":10.5,"y":8.9},{"p":"c","g":"L","x":11,"y":8.83},{"p":"c","g":"L","x":11.5,"y":8.68},{"p":"c","g":"L","x":11.8,"y":8.53},
{"p":"c","g":"H","x":4.2,"y":4.26},{"p":"c","g":"H","x":4.6,"y":4.62},{"p":"c","g":"H","x":5,"y":5.0},{"p":"c","g":"H","x":5.5,"y":5.35},{"p":"c","g":"H","x":6,"y":5.66},{"p":"c","g":"H","x":6.5,"y":5.95},{"p":"c","g":"H","x":7,"y":6.24},{"p":"c","g":"H","x":7.5,"y":6.52},{"p":"c","g":"H","x":8,"y":6.74},{"p":"c","g":"H","x":8.5,"y":7.15},{"p":"c","g":"H","x":9,"y":7.7},{"p":"c","g":"H","x":9.5,"y":8.0},{"p":"c","g":"H","x":10,"y":8.25},{"p":"c","g":"H","x":11,"y":8.6},{"p":"c","g":"H","x":12,"y":8.88},{"p":"c","g":"H","x":13,"y":9.06},{"p":"c","g":"H","x":13.7,"y":9.15},
{"p":"d","g":"L","x":3.4,"y":5.52},{"p":"d","g":"L","x":4,"y":5.52},{"p":"d","g":"L","x":5,"y":5.56},{"p":"d","g":"L","x":6,"y":5.66},{"p":"d","g":"L","x":7,"y":5.88},{"p":"d","g":"L","x":7.5,"y":6.08},{"p":"d","g":"L","x":8,"y":6.45},{"p":"d","g":"L","x":8.3,"y":6.85},{"p":"d","g":"L","x":8.6,"y":7.35},{"p":"d","g":"L","x":9,"y":7.82},{"p":"d","g":"L","x":9.5,"y":8.1},{"p":"d","g":"L","x":10,"y":8.32},{"p":"d","g":"L","x":11,"y":8.66},{"p":"d","g":"L","x":12,"y":8.82},{"p":"d","g":"L","x":12.5,"y":8.85},
{"p":"d","g":"H","x":2.9,"y":5.59},{"p":"d","g":"H","x":3.5,"y":5.43},{"p":"d","g":"H","x":4,"y":5.35},{"p":"d","g":"H","x":4.5,"y":5.3},{"p":"d","g":"H","x":5,"y":5.33},{"p":"d","g":"H","x":5.5,"y":5.45},{"p":"d","g":"H","x":6,"y":5.66},{"p":"d","g":"H","x":6.5,"y":5.97},{"p":"d","g":"H","x":7,"y":6.31},{"p":"d","g":"H","x":7.5,"y":6.68},{"p":"d","g":"H","x":8,"y":7.1},{"p":"d","g":"H","x":8.5,"y":7.65},{"p":"d","g":"H","x":9,"y":8.1},{"p":"d","g":"H","x":9.5,"y":8.36},{"p":"d","g":"H","x":10,"y":8.53},{"p":"d","g":"H","x":11,"y":8.78},{"p":"d","g":"H","x":12,"y":8.9},{"p":"d","g":"H","x":12.5,"y":8.93},{"p":"d","g":"H","x":13,"y":8.92},{"p":"d","g":"H","x":13.7,"y":8.85}
]
},
"resolve": {"scale": {"color": "independent"}, "legend": {"color": "independent"}},
"vconcat": [
{"spacing": 1, "hconcat": [
 {"width": 338, "height": 148, "title": "(a)",
  "encoding": {
   "x": {"field": "x", "type": "quantitative", "scale": {"domain": [1.95, 15.45], "nice": false, "zero": false}, "axis": {"values": [4, 8, 12], "title": "log(peak outages)"}},
   "y": {"field": "y", "type": "quantitative", "scale": {"domain": [3.7, 10.1], "nice": false, "zero": false}, "axis": {"values": [4, 6, 8, 10], "title": "log(outage duration, minutes)"}}
  },
  "layer": [
   {"data": {"name": "pts"}, "mark": {"type": "circle", "size": 10, "opacity": 0.5},
    "encoding": {"color": {"field": "a", "type": "nominal", "scale": {"domain": ["L", "H"], "range": ["#F8766D", "#00BFC4"]}, "legend": {"title": "Socioeconomic Status", "legendX": 56, "legendY": 180, "labelExpr": "datum.label == 'L' ? 'Low Vulnerability' : 'High Vulnerability'"}}}},
   {"data": {"name": "curves"}, "transform": [{"filter": "datum.p == 'a'"}], "mark": {"type": "line", "strokeWidth": 2, "interpolate": "monotone"},
    "encoding": {"color": {"field": "g", "type": "nominal", "scale": {"domain": ["L", "H"], "range": ["#F8766D", "#00BFC4"]}, "legend": {"title": "Socioeconomic Status", "legendX": 56, "legendY": 180, "labelExpr": "datum.label == 'L' ? 'Low Vulnerability' : 'High Vulnerability'"}}}}
  ]},
 {"width": 338, "height": 148, "title": "(b)",
  "encoding": {
   "x": {"field": "x", "type": "quantitative", "scale": {"domain": [1.95, 15.45], "nice": false, "zero": false}, "axis": {"values": [4, 8, 12], "title": "log(peak outages)"}},
   "y": {"field": "y", "type": "quantitative", "scale": {"domain": [3.7, 10.1], "nice": false, "zero": false}, "axis": {"values": [4, 6, 8, 10], "title": "log(outage duration, minutes)"}}
  },
  "layer": [
   {"data": {"name": "pts"}, "mark": {"type": "circle", "size": 10, "opacity": 0.5},
    "encoding": {"color": {"field": "b", "type": "nominal", "scale": {"domain": ["L", "H"], "range": ["#F8766D", "#00BFC4"]}, "legend": {"title": "Household Characteristics", "legendX": 50, "legendY": 180, "labelExpr": "datum.label == 'L' ? 'Low Vulnerability' : 'High Vulnerability'"}}}},
   {"data": {"name": "curves"}, "transform": [{"filter": "datum.p == 'b'"}], "mark": {"type": "line", "strokeWidth": 2, "interpolate": "monotone"},
    "encoding": {"color": {"field": "g", "type": "nominal", "scale": {"domain": ["L", "H"], "range": ["#F8766D", "#00BFC4"]}, "legend": {"title": "Household Characteristics", "legendX": 50, "legendY": 180, "labelExpr": "datum.label == 'L' ? 'Low Vulnerability' : 'High Vulnerability'"}}}}
  ]}
 ], "resolve": {"scale": {"color": "independent"}, "legend": {"color": "independent"}}},
{"spacing": 1, "hconcat": [
 {"width": 338, "height": 148, "title": "(c)",
  "encoding": {
   "x": {"field": "x", "type": "quantitative", "scale": {"domain": [1.95, 15.45], "nice": false, "zero": false}, "axis": {"values": [4, 8, 12], "title": "log(peak outages)"}},
   "y": {"field": "y", "type": "quantitative", "scale": {"domain": [3.7, 10.1], "nice": false, "zero": false}, "axis": {"values": [4, 6, 8, 10], "title": "log(outage duration, minutes)"}}
  },
  "layer": [
   {"data": {"name": "pts"}, "mark": {"type": "circle", "size": 10, "opacity": 0.5},
    "encoding": {"color": {"field": "c", "type": "nominal", "scale": {"domain": ["L", "H"], "range": ["#F8766D", "#00BFC4"]}, "legend": {"title": "Racial & Ethnic Minority Status", "legendX": 36, "legendY": 180, "labelExpr": "datum.label == 'L' ? 'Low Vulnerability' : 'High Vulnerability'"}}}},
   {"data": {"name": "curves"}, "transform": [{"filter": "datum.p == 'c'"}], "mark": {"type": "line", "strokeWidth": 2, "interpolate": "monotone"},
    "encoding": {"color": {"field": "g", "type": "nominal", "scale": {"domain": ["L", "H"], "range": ["#F8766D", "#00BFC4"]}, "legend": {"title": "Racial & Ethnic Minority Status", "legendX": 36, "legendY": 180, "labelExpr": "datum.label == 'L' ? 'Low Vulnerability' : 'High Vulnerability'"}}}}
  ]},
 {"width": 338, "height": 148, "title": "(d)",
  "encoding": {
   "x": {"field": "x", "type": "quantitative", "scale": {"domain": [1.95, 15.45], "nice": false, "zero": false}, "axis": {"values": [4, 8, 12], "title": "log(peak outages)"}},
   "y": {"field": "y", "type": "quantitative", "scale": {"domain": [3.7, 10.1], "nice": false, "zero": false}, "axis": {"values": [4, 6, 8, 10], "title": "log(outage duration, minutes)"}}
  },
  "layer": [
   {"data": {"name": "pts"}, "mark": {"type": "circle", "size": 10, "opacity": 0.5},
    "encoding": {"color": {"field": "d", "type": "nominal", "scale": {"domain": ["L", "H"], "range": ["#F8766D", "#00BFC4"]}, "legend": {"title": "Housing Type & Transportation", "legendX": 42, "legendY": 180, "labelExpr": "datum.label == 'L' ? 'Low Vulnerability' : 'High Vulnerability'"}}}},
   {"data": {"name": "curves"}, "transform": [{"filter": "datum.p == 'd'"}], "mark": {"type": "line", "strokeWidth": 2, "interpolate": "monotone"},
    "encoding": {"color": {"field": "g", "type": "nominal", "scale": {"domain": ["L", "H"], "range": ["#F8766D", "#00BFC4"]}, "legend": {"title": "Housing Type & Transportation", "legendX": 42, "legendY": 180, "labelExpr": "datum.label == 'L' ? 'Low Vulnerability' : 'High Vulnerability'"}}}}
  ]}
 ], "resolve": {"scale": {"color": "independent"}, "legend": {"color": "independent"}}}
]
}
